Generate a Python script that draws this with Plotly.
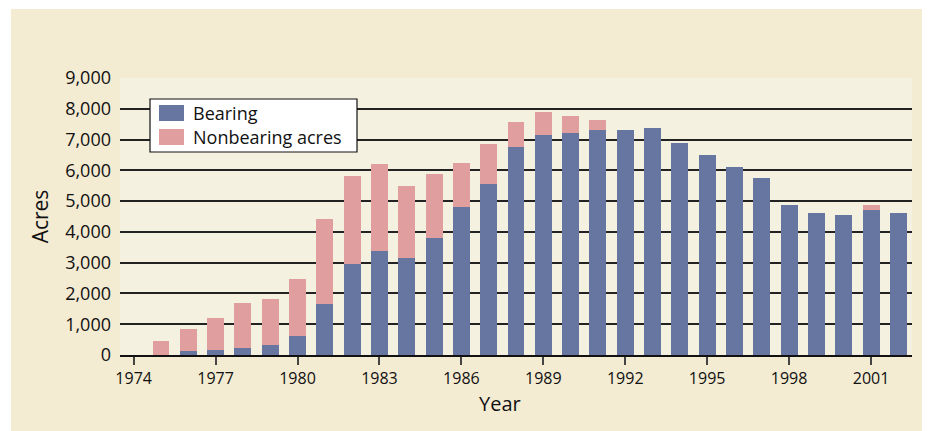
import plotly.graph_objects as go

years = list(range(1975, 2003))
bearing = [0, 130, 160, 240, 320, 620, 1650, 2960, 3370, 3140, 3790, 4800, 5570,
           6770, 7160, 7200, 7320, 7320, 7360, 6900, 6510, 6120, 5740, 4860, 4630,
           4540, 4700, 4630]
total = [450, 850, 1200, 1690, 1820, 2460, 4410, 5800, 6190, 5480, 5870, 6250, 6870,
         7580, 7910, 7750, 7650, 7320, 7360, 6900, 6510, 6120, 5740, 4860, 4630,
         4540, 4890, 4630]
nonbearing = [t - b for t, b in zip(total, bearing)]
tick_years = list(range(1974, 2002, 3))
series_names = ["Bearing", "Nonbearing acres"]
series_colors = ["#6776A1", "#E09E9E"]

PAPER = "#F3EBD2"
PLOT = "#F5F1E0"
FONT = "Open Sans"

fig = go.Figure()
for name, vals, col in zip(series_names, [bearing, nonbearing], series_colors):
    fig.add_trace(go.Bar(x=years, y=vals, name=name, marker_color=col,
                         marker_line_width=0, width=0.62, showlegend=False))

# page offset (body margin) is 8px
OFF = 8
W, H = 930 - OFF, 431 - OFF
L, T = 120 - OFF, 78 - OFF
R, B = 18, 76
pw, ph = W - L - R, H - T - B


def px(x):  # page x -> paper
    return (x - OFF - L) / pw


def py(y):  # page y -> paper
    return (H - B - (y - OFF)) / ph


shapes = [
    dict(type="rect", xref="paper", yref="paper", x0=px(0), x1=px(11),
         y0=py(440), y1=py(0), fillcolor="white", line_width=0, layer="below"),
    dict(type="rect", xref="paper", yref="paper", x0=px(0), x1=px(940),
         y0=py(9), y1=py(0), fillcolor="white", line_width=0, layer="below"),
    # legend box
    dict(type="rect", xref="paper", yref="paper", x0=px(150), x1=px(357),
         y0=py(152), y1=py(99), fillcolor="white", line=dict(color="#111", width=1.2)),
    dict(type="rect", xref="paper", yref="paper", x0=px(159), x1=px(184),
         y0=py(121), y1=py(105), fillcolor=series_colors[0], line_width=0),
    dict(type="rect", xref="paper", yref="paper", x0=px(159), x1=px(184),
         y0=py(145), y1=py(129), fillcolor=series_colors[1], line_width=0),
]
annotations = [
    dict(text=series_names[0], xref="paper", yref="paper", x=px(191), y=py(113),
         xanchor="left", yanchor="middle", showarrow=False, font=dict(size=18, family=FONT, color="#111")),
    dict(text=series_names[1], xref="paper", yref="paper", x=px(191), y=py(137),
         xanchor="left", yanchor="middle", showarrow=False, font=dict(size=18, family=FONT, color="#111")),
    dict(text="Year", xref="paper", yref="paper", x=px(500), y=py(403),
         xanchor="center", yanchor="middle", showarrow=False, font=dict(size=20, family=FONT, color="#111")),
]

fig.update_layout(
    width=W, height=H,
    margin=dict(l=L, r=R, t=T, b=B, pad=0),
    barmode="stack",
    paper_bgcolor=PAPER,
    plot_bgcolor=PLOT,
    font=dict(family=FONT, color="#111"),
    showlegend=False,
    xaxis=dict(range=[1973.5, 2002.5], tickvals=tick_years, ticks="outside",
               ticklen=8, tickwidth=2, tickcolor="#444", showgrid=False,
               showline=True, linecolor="#111", linewidth=1.5,
               tickfont=dict(size=16), zeroline=False),
    yaxis=dict(range=[0, 9000], dtick=1000, tickformat=",d", showgrid=True,
               gridcolor="#222", gridwidth=1.7, zeroline=False, ticks="",
               ticklabelstandoff=8, tickfont=dict(size=18),
               title=dict(text="Acres", font=dict(size=21), standoff=10)),
    shapes=shapes,
    annotations=annotations,
)

fig.write_html("out.html")
